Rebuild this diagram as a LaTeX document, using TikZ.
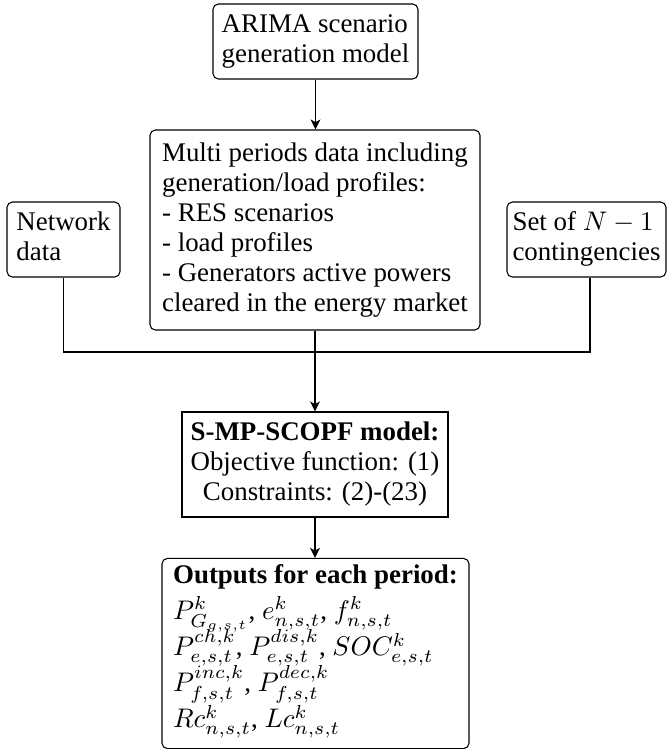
\documentclass[tikz,border=0pt]{standalone}
\usepackage[no-math]{fontspec}
\setmainfont{Liberation Serif}
\usetikzlibrary{arrows.meta}
\def\px{0.3717pt}
\begin{document}
\begin{tikzpicture}[x=0.3717pt, y=-0.3717pt,
  box/.style={draw, line width=0.4pt, inner sep=0pt, font=\fontsize{10}{11.15}\selectfont},
  rbox/.style={box, rounded corners=2pt},
  conn/.style={line width=0.6pt},
  arr/.style={conn, -{Stealth[length=3.7pt, width=3.6pt, inset=1pt]}}]
\useasboundingbox (0,0) rectangle (667,749);

\node[rbox, minimum width=205*\px, minimum height=75*\px] (arima) at (315.5,41.5)
  {\begin{tabular}{@{}l@{}}ARIMA scenario\\generation model\end{tabular}};

\node[rbox, minimum width=330*\px, minimum height=200*\px] (mid) at (315,230)
  {\begin{tabular}{@{}l@{}}Multi periods data including\\generation/load profiles:\\- RES scenarios\\- load profiles\\- Generators active powers\\cleared in the energy market\end{tabular}};

\node[rbox, minimum width=113*\px, minimum height=75*\px] (net) at (63.5,239.5)
  {\begin{tabular}{@{}l@{}}Network\\data\end{tabular}};

\node[rbox, minimum width=159*\px, minimum height=75*\px] (set) at (586.5,239.5)
  {\begin{tabular}{@{}l@{}}Set of $N-1$\\contingencies\end{tabular}};

\node[box, minimum width=266*\px, minimum height=105*\px] (smp) at (315,464.5)
  {\begin{tabular}{@{}c@{}}\textbf{S-MP-SCOPF model:}\\Objective function: (1)\\Constraints: (2)-(23)\end{tabular}};

\node[rbox, minimum width=307*\px, minimum height=187*\px,
      font=\fontsize{10}{13.4}\selectfont] (out) at (315.5,653.5)
  {\begin{tabular}{@{}l@{}}\textbf{Outputs for each period:}\\
  \smash{$P^k_{G_{g,s,t}}$, $e^k_{n,s,t}$, $f^k_{n,s,t}$}\\
  \smash{$P^{ch,k}_{e,s,t}$, $P^{dis,k}_{e,s,t}$, $SOC^k_{e,s,t}$}\\
  \smash{$P^{inc,k}_{f,s,t}$, $P^{dec,k}_{f,s,t}$}\\
  \smash{$Rc^k_{n,s,t}$, $Lc^k_{n,s,t}$}\rule[-7.7pt]{0pt}{1pt}\end{tabular}};

\coordinate (j) at (315,352);

\draw[arr] (arima.south) -- (arima.south |- mid.north);
\draw[conn] (net.south) |- (j) -| ([xshift=1.3pt]set.south);
\draw[arr] (mid.south) -- (smp.north);
\draw[arr] (smp.south) -- (smp.south |- out.north);
\end{tikzpicture}
\end{document}
